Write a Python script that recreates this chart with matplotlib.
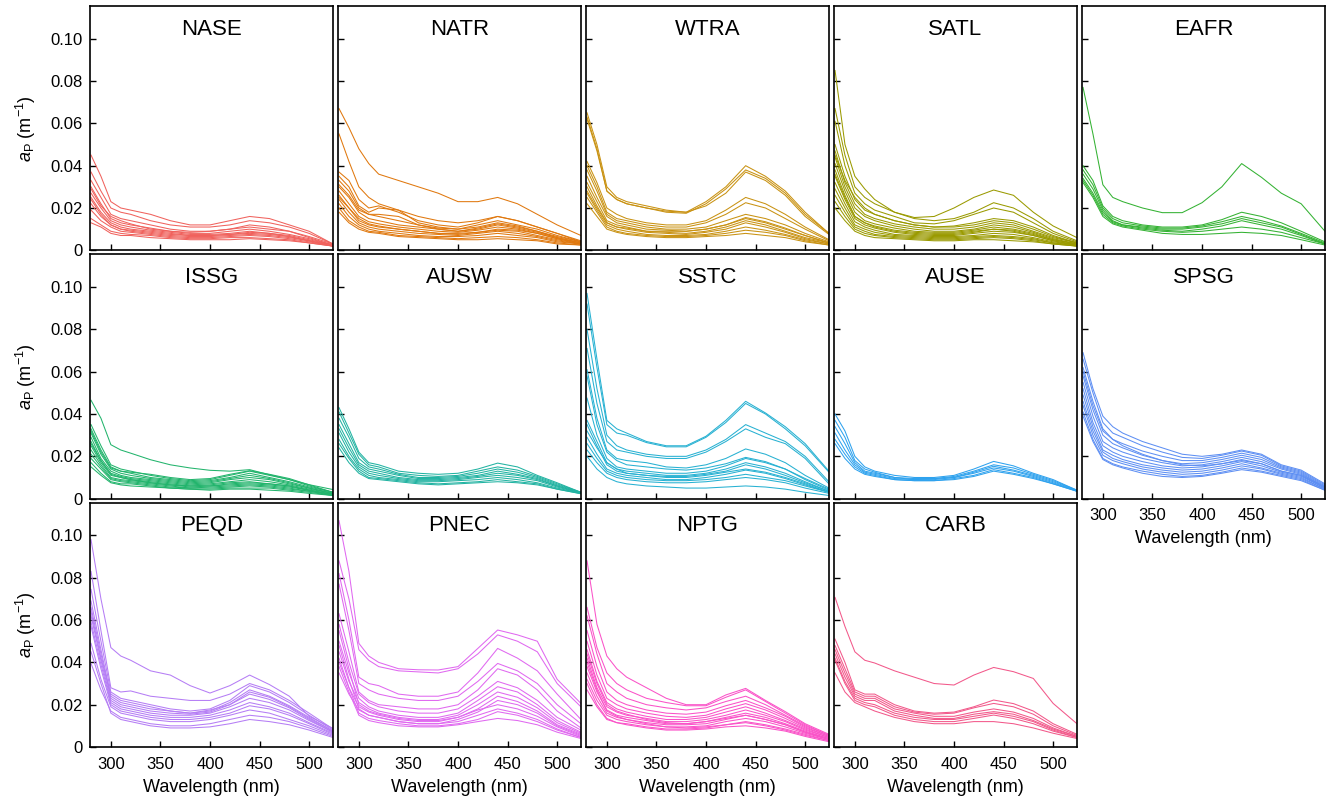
import matplotlib
matplotlib.use("Agg")
import matplotlib.pyplot as plt
from matplotlib.ticker import FuncFormatter

plt.rcParams["font.family"] = "Liberation Sans"
plt.rcParams["mathtext.fontset"] = "custom"
plt.rcParams["mathtext.rm"] = "Liberation Sans"
plt.rcParams["mathtext.it"] = "Liberation Sans:italic"

# wavelength grid (nm) the spectra were read at
wl = [280, 290, 300, 310, 320, 340, 360, 380, 400, 420, 440, 460, 480, 500, 524]

# particle absorption, in units of 0.001 m^-1
nase = [
    [45, 35, 23, 20, 19, 17, 14, 12, 12, 14, 16, 15, 12, 9, 3],
    [37, 28, 20, 18, 17, 14, 12, 11, 11, 12, 14, 13, 11, 8, 3],
    [33, 25, 17, 15, 14, 12, 10, 9, 9, 10, 11, 10, 9, 6, 2.5],
    [30, 22, 15, 13, 12, 10.5, 9, 8, 8, 9, 10, 9, 7.5, 5.5, 2.5],
    [27, 20, 14, 12, 11, 9.5, 8.5, 7.5, 7.5, 8, 9, 8, 7, 5, 2.5],
    [25, 18, 13, 11, 10, 9, 8, 7, 7, 7.5, 8, 7.5, 6.5, 4.5, 2],
    [22, 16, 12, 10, 9, 8, 7, 6.5, 6.5, 7, 7.5, 7, 6, 4.5, 2],
    [19, 14, 11, 9, 8.5, 7.5, 6.5, 6, 6, 6.5, 7, 6.5, 5.5, 4, 2],
    [15, 12, 9, 8, 7.5, 7, 6, 5.5, 5.5, 6, 6, 5.5, 5, 3.5, 2],
    [13, 11, 8, 7, 7, 6, 5.5, 5, 5, 5, 5.5, 5, 4.5, 3.5, 2],
    [29, 21, 16, 14, 12.5, 10, 9, 8.5, 9, 10, 12, 11, 9, 6.5, 3],
    [24, 17, 12, 10, 9.5, 8.5, 7.5, 7, 7, 7.5, 8.5, 8, 6.5, 4.5, 2.5],
]
natr = [
    [67, 58, 48, 41, 36, 33, 30, 27, 23, 23, 25, 22, 17, 12, 7],
    [55, 42, 30, 25, 22, 19, 16, 14, 13, 14, 16, 14, 11, 8, 4.5],
    [37, 33, 24, 20, 21, 18, 14, 12, 11, 13, 16, 14, 11, 8, 4],
    [35, 30, 21, 18, 20, 19, 13, 11, 10, 12, 14, 12, 10, 7, 4],
    [33, 28, 20, 17, 16, 14, 12, 10.5, 10, 11, 13, 11.5, 9, 6.5, 4],
    [30, 25, 18, 15, 14, 12, 11, 10, 9, 10, 12, 10.5, 8.5, 6, 3.5],
    [28, 22, 16, 13.5, 12.5, 11, 10, 9, 8.5, 9.5, 11, 10, 8, 5.5, 3.5],
    [26, 20, 15, 12.5, 11.5, 10, 9, 8, 8, 8.5, 9.5, 9, 7, 5, 3],
    [24, 18, 13, 11, 10, 9, 8, 7.5, 7, 8, 9, 8, 6.5, 4.5, 3],
    [22, 16, 12, 10, 9, 8, 7, 6.5, 6.5, 7, 8, 7, 6, 4, 3],
    [20, 14, 11, 9, 8.5, 7, 6.5, 6, 5.5, 6, 6.5, 6, 5, 3.5, 2.5],
    [18, 13, 10, 8.5, 8, 6.5, 6, 5.5, 5, 5, 5.5, 5, 4.5, 3, 2.5],
    [31, 26, 19, 17, 17, 16, 12, 10, 9, 10.5, 12.5, 11, 9, 6, 3.5],
    [25, 20, 14, 12, 11, 10, 9, 8, 7.5, 8.5, 10, 9.5, 8, 5.5, 3],
]
wtra = [
    [65, 50, 30, 25, 23, 21, 19, 18, 23, 30, 40, 35, 28, 18, 8],
    [63, 48, 28, 24, 22, 20, 18, 17.5, 22, 29, 38, 34, 27, 17, 8],
    [62, 47, 28, 24, 22, 20, 18.5, 18, 21, 27, 37, 33, 26, 16, 7.5],
    [42, 32, 20, 17, 15, 13, 12, 12, 14, 19, 25, 22, 17, 11, 5],
    [40, 30, 18, 15, 14, 12, 11, 11, 13, 17, 22.5, 20, 15, 10, 4.5],
    [38, 28, 17, 14, 13, 11, 10, 10, 11, 14, 17, 15, 12, 8, 4],
    [35, 25, 16, 13, 12, 10, 9.5, 9, 10, 12, 15, 13, 10, 7, 3.5],
    [32, 23, 14, 12, 11, 9, 8.5, 8, 9, 11, 14, 12, 9, 6, 3.5],
    [30, 21, 13, 11, 10, 8.5, 8, 7.5, 8.5, 10, 13, 11, 8.5, 5.5, 3],
    [27, 19, 12, 10, 9, 7.5, 7, 7, 7.5, 9, 11, 9.5, 7.5, 5, 3],
    [25, 18, 11, 9, 8, 7, 6.5, 6.5, 7, 8, 9.5, 8.5, 7, 4.5, 2.5],
    [22, 16, 10, 8.5, 7.5, 6.5, 6, 6, 6.5, 7, 8, 7, 6, 4, 2.5],
    [28, 20, 13, 11, 10.5, 9, 9, 9, 10, 12, 15.5, 13.5, 10.5, 7, 3.5],
]
satl = [
    [85, 50, 35, 29, 24, 18, 15.5, 16, 20, 25, 28.5, 26, 18, 11.5, 6],
    [67, 45, 30, 25, 22, 18, 15, 14, 15, 18, 22.5, 20, 15, 9, 4.5],
    [61, 40, 27, 22, 19, 16, 13, 12.5, 14, 17, 20, 18, 13, 8, 4],
    [50, 35, 24, 19, 17, 14, 12, 11, 11, 12, 14, 13, 10, 6.5, 3.5],
    [47, 32, 22, 17, 15, 12.5, 11, 10, 10, 11, 13, 12, 9, 6, 3.5],
    [44, 30, 20, 16, 14, 11.5, 10, 9, 9, 10, 12, 11, 8.5, 5.5, 3],
    [41, 28, 18, 14, 12.5, 10.5, 9, 8.5, 8.5, 9.5, 11, 10, 8, 5, 3],
    [38, 26, 16, 13, 11.5, 9.5, 8.5, 8, 8, 9, 10, 9.5, 7.5, 5, 3],
    [35, 24, 15, 12, 10.5, 8.5, 7.5, 7, 7, 8, 9, 8.5, 7, 4.5, 2.5],
    [32, 22, 13.5, 11, 9.5, 7.5, 7, 6.5, 6.5, 7, 8, 7.5, 6, 4, 2.5],
    [29, 20, 12, 10, 8.5, 7, 6.5, 6, 6, 6.5, 7, 6.5, 5.5, 3.5, 2.5],
    [26, 18, 11, 9, 7.5, 6.5, 6, 5.5, 5.5, 6, 6.5, 6, 5, 3.5, 2],
    [23, 16, 10, 8, 7, 6, 5.5, 5, 5, 5.5, 6, 5.5, 4.5, 3, 2],
    [20, 14, 9, 7, 6, 5.5, 5, 4.5, 4.5, 5, 5, 4.5, 4, 3, 2],
    [45, 33, 25, 20, 17, 14, 12, 11, 11.5, 13, 15, 14, 11, 7, 3.5],
    [36, 25, 16, 13, 11, 9, 8, 7.5, 7.5, 8.5, 10, 9, 7, 4.5, 2.5],
]
eafr = [
    [77, 55, 31, 25, 23, 20, 17.8, 17.8, 22.5, 30, 41, 34.5, 27, 22, 9],
    [40, 33, 21, 16, 14, 12, 11, 11, 12, 14.5, 18, 16, 13, 9, 4],
    [38, 31, 20, 15, 13, 11.5, 10.5, 10.5, 11.5, 13.5, 16, 14, 11.5, 8, 3.5],
    [36, 29, 19, 14, 12, 11, 10, 10, 11, 12.5, 15, 13, 11, 7.5, 3],
    [34, 27, 18, 13.5, 12, 10.5, 9.5, 9, 10, 11.5, 14, 12, 10, 7, 3],
    [33, 26, 17, 13, 11.5, 10, 9, 8.5, 9, 10, 11, 10, 8.5, 6, 3],
    [32, 25, 16, 12.5, 11, 9.5, 8, 7.5, 7.5, 8, 8.5, 8, 7, 5, 2.5],
]
issg = [
    [46.5, 38, 25.5, 23, 21.5, 18.4, 16, 14.5, 13.4, 13, 13.7, 11.3, 9, 6.6, 4.3],
    [35, 25, 16, 14, 13, 11, 9.5, 8.5, 9, 11, 13, 11, 9, 6, 3],
    [33, 23, 15, 13, 12, 10, 9, 8, 8.5, 10, 12, 10, 8, 5.5, 3],
    [31, 21, 14, 12, 11, 9.5, 8.5, 7.5, 8, 9.5, 11, 9.5, 7.5, 5, 2.5],
    [29, 19, 13, 11, 10, 9, 8, 7, 7.5, 9, 10, 9, 7, 5, 2.5],
    [27, 18, 12, 10.5, 9.5, 8.5, 7.5, 6.5, 7, 8, 9, 8, 6.5, 4.5, 2.5],
    [25, 17, 11, 10, 9, 8, 7, 6, 6.5, 7.5, 8, 7, 6, 4, 2],
    [23, 16, 10, 9, 8.5, 7.5, 6.5, 5.5, 6, 6.5, 7, 6.5, 5.5, 4, 2],
    [21, 15, 9.5, 8.5, 8, 7, 6, 5, 5.5, 6, 6.5, 6, 5, 3.5, 2],
    [19, 14, 9, 8, 7.5, 6.5, 5.5, 5, 5, 5.5, 6, 5.5, 4.5, 3.5, 1.5],
    [17, 12, 8, 7, 7, 6, 5, 4.5, 4.5, 5, 5, 5, 4, 3, 1.5],
    [15, 11, 7.5, 6.5, 6, 5.5, 5, 4.5, 4, 4.5, 4.5, 4, 3.5, 2.5, 1.5],
    [32, 22, 14.5, 13, 12.5, 11.5, 10, 9, 9.5, 11.5, 13.2, 11.5, 9.5, 6.5, 3],
    [26, 18, 11.5, 10, 9, 7.5, 6.5, 6, 6, 7, 7.5, 7, 6, 4, 2],
]
ausw = [
    [43, 33, 22, 17, 16, 13, 12, 11.5, 12, 14, 16.8, 15, 11, 7.5, 3],
    [41, 31, 21, 16, 15, 12, 11, 10.5, 11, 13, 15, 13.5, 10.5, 7, 3],
    [38, 29, 19, 15, 14, 11.5, 10, 10, 10.5, 12, 14, 12.5, 10, 6.5, 3],
    [35, 26, 17, 14, 13, 11, 9.5, 9.5, 10, 11, 13, 11.5, 9.5, 6, 2.8],
    [33, 24, 16, 13, 12, 10, 9, 9, 9.5, 10.5, 12, 11, 9, 6, 2.7],
    [31, 22, 15, 12, 11, 9.5, 8.5, 8.5, 9, 10, 11, 10, 8.5, 5.5, 2.6],
    [28, 20, 14, 11, 10, 9, 8, 8, 8.5, 9, 10, 9, 7.5, 5, 2.5],
    [26, 19, 13, 10, 9.5, 8.5, 7.5, 7, 7.5, 8, 9, 8, 7, 4.5, 2.4],
    [24, 17, 12, 9.5, 9, 8, 7, 6.5, 7, 7.5, 8, 7.5, 6.5, 4.5, 2.3],
]
sstc = [
    [97, 66, 37, 33, 31, 27, 25, 25, 29.5, 37, 46, 40.5, 34, 26, 13],
    [92, 62, 35, 31, 30, 26.5, 24.5, 24.5, 29, 36, 45, 40, 33, 25, 12.5],
    [80, 52, 30, 25, 23, 21, 20, 20, 23, 28, 35, 31, 27, 20, 8],
    [71, 45, 27, 23, 22, 20, 19, 19, 22, 27, 33, 29, 26, 19, 7],
    [61, 38, 23, 19, 18, 17, 15, 14.5, 16, 19, 23.5, 21, 17, 11, 5],
    [58, 35, 22, 18, 16, 15, 14, 13.5, 14.5, 16.5, 19.5, 17.5, 14, 9.5, 4.5],
    [47.5, 30, 19, 15, 14, 13, 12, 12, 13, 15.5, 19, 17, 14, 9, 4],
    [37, 27, 17, 14, 13, 12, 11, 11, 12, 14, 17, 15, 12, 8, 3.5],
    [35, 25, 16, 13, 12, 11, 10, 10, 11, 12.5, 14, 12.5, 10, 7, 3],
    [29, 21, 14, 12, 11, 10, 9, 9, 10, 11.5, 13.5, 12, 9.5, 6.5, 3],
    [26, 19, 13, 11, 10, 9, 8.5, 8.5, 9, 10, 11.5, 10, 8.5, 6, 3],
    [23, 17, 12, 10, 9, 8, 7.5, 7.5, 8, 9, 10, 9, 7.5, 5, 2.5],
    [20, 14, 10, 8, 7, 6, 5.5, 5, 5, 5.5, 6, 5.5, 4.5, 3, 1.5],
    [32, 24, 17, 14, 12, 11, 10.5, 10.5, 11.5, 13, 16, 14, 11, 7.5, 3.5],
]
ause = [
    [40, 32, 20, 15, 13, 11, 10, 10, 11, 14, 17.6, 15.5, 12, 9, 4],
    [37, 29, 18, 14, 12.5, 10, 9.5, 9.5, 10.5, 13, 16, 14.5, 11.5, 8.5, 4],
    [34, 26, 17, 13, 12, 10, 9, 9.5, 10, 12.5, 15.3, 13.5, 11, 8, 3.8],
    [31, 23, 16, 12.5, 11.5, 9.5, 9, 9, 10, 12, 14.5, 13, 10.5, 7.5, 3.6],
    [28, 21, 15, 12, 11, 9, 8.5, 8.5, 9.5, 11, 13.7, 12, 10, 7, 3.5],
    [26, 19, 14, 11.5, 10.5, 9, 8.5, 8.5, 9, 10.5, 13, 11.5, 9.5, 7, 3.5],
]
spsg = [
    [69, 52, 39, 34, 31, 27, 24, 21, 20, 21, 23, 21, 16, 13.5, 7],
    [66, 50, 36, 31, 29, 25, 22, 19.5, 19, 20.5, 22.5, 20.5, 15.5, 13, 6.5],
    [62, 46, 33, 28, 26, 22.5, 20, 18, 18, 19.5, 21.5, 19.5, 15, 12.5, 6],
    [58, 42, 30, 26, 24, 20.5, 18, 16.5, 17, 18.5, 20.5, 18.5, 14.5, 12, 5.5],
    [55, 39, 27, 24, 22, 19, 17, 15.5, 16, 17.5, 19.5, 17.5, 14, 11.5, 5.5],
    [52, 36, 25, 22, 20, 17.5, 15.5, 14.5, 15, 16.5, 18.5, 16.5, 13, 11, 5],
    [49, 34, 23, 20.5, 18.5, 16, 14.5, 13.5, 14, 15.5, 17.5, 15.5, 12.5, 10.5, 5],
    [46, 32, 22, 19, 17.5, 15, 13.5, 12.5, 13, 14.5, 16.5, 14.5, 12, 10, 4.5],
    [44, 30, 20.5, 18, 16.5, 14, 12.5, 11.5, 12, 13.5, 15.5, 14, 11.5, 9.5, 4.5],
    [41, 28, 19, 16.5, 15, 13, 11.5, 10.5, 11, 12.5, 14.5, 13, 11, 9, 4],
    [39, 27, 18.5, 16, 14.5, 12, 10.5, 10, 10.5, 12, 13.7, 12.5, 10.5, 8.5, 4],
    [60, 44, 32, 28, 25, 21, 18, 16, 15.5, 16.5, 18, 16.5, 13, 11, 5.5],
]
peqd = [
    [98, 70, 47, 43, 41, 36, 34, 29, 25.5, 29, 34, 29.5, 24, 14.5, 8.8],
    [83, 55, 28, 26, 26.5, 24, 23, 22, 22, 25, 30, 27, 22, 16, 8.5],
    [74.5, 50, 26, 23, 22, 20, 18, 17, 18, 22, 29, 26, 21, 15, 8],
    [69, 46, 24, 21, 20, 18, 17, 16, 17, 21, 27, 24, 19.5, 14, 7.5],
    [66, 44, 23, 20, 19, 17, 16, 15.5, 16.5, 20, 25, 22.5, 18.5, 13, 7],
    [62, 41, 22, 19, 18, 16, 15, 15, 16, 19, 23, 21, 17.5, 12.5, 7],
    [59, 39, 21, 18, 17, 15, 14, 14, 15, 17.5, 21, 19, 16, 11.5, 6.5],
    [57, 37, 20, 17, 16, 14, 13, 13, 14, 16, 19.5, 18, 15, 11, 6],
    [49, 32, 19, 16, 15, 13, 12, 12, 13, 15, 17.5, 16, 13, 10, 5.5],
    [39.5, 27, 17, 14, 13, 11, 10, 10, 11, 13, 15, 14, 12, 9, 5],
    [45, 30, 16, 13, 12, 10, 9, 9, 9.5, 11, 13, 12, 10.5, 8, 4.5],
    [64, 42, 25, 22, 21, 19, 17, 16, 17.5, 20, 26, 23.5, 19, 13.5, 7.5],
]
pnec = [
    [107, 83, 49, 43, 40, 37, 36.5, 36.4, 38, 46.6, 55.3, 53, 50, 32, 20.6],
    [88, 70, 46, 41, 38, 36, 35.5, 35, 37, 44, 53, 50, 45, 30, 19],
    [82, 60, 33, 30, 29, 25, 24, 24, 26, 35, 46.6, 42, 36, 25, 13],
    [77, 55, 30, 27, 25, 23, 22, 22, 24, 31, 39.5, 36, 30, 20, 11],
    [63, 45, 26, 22, 20, 19, 18, 18, 20, 27, 37, 34, 27, 17, 9],
    [58, 40, 25, 21, 19, 17, 16, 16, 18, 24, 31, 28, 22, 14, 8],
    [50, 35, 23, 19, 17, 15, 14, 14, 16, 22, 28.5, 26, 20, 12.5, 7],
    [45, 31, 21, 18, 16, 14, 13, 13, 15, 20, 26, 23.5, 18.5, 11.5, 6.5],
    [40, 28, 19, 16.5, 15, 13, 12, 12, 14, 18, 24, 21.5, 17, 10.5, 6],
    [35, 25, 17.5, 15, 14, 12, 11, 11, 13, 16.5, 22, 20, 16, 10, 5.5],
    [55, 37, 20, 17, 15.5, 13.5, 12.5, 12.5, 14, 17.5, 20, 18, 14.5, 9.5, 5],
    [48, 32, 18, 15, 14, 12, 11, 11, 12, 15, 18, 16, 13, 8.5, 4.5],
    [42, 28, 16, 13.5, 12.5, 11, 10, 10, 11, 13, 16.7, 15, 12, 8, 4.5],
    [38, 26, 15, 12.5, 11.5, 10, 9.5, 9.5, 10.5, 12, 13.5, 12.5, 10.5, 7, 4],
]
nptg = [
    [88, 58, 43, 37, 33, 28, 23, 20, 20, 24.6, 27.7, 22, 16.7, 11, 6],
    [66, 47, 35, 30, 27, 23, 21, 19.5, 19.5, 23.5, 27, 21.5, 16, 10.5, 5.5],
    [62, 44, 30, 26, 23, 20, 18.5, 17.5, 18.5, 21.5, 24, 20, 15, 10, 5.5],
    [55, 38, 26, 22, 20, 17.5, 16, 15.5, 16.5, 19.5, 22, 18.5, 14.5, 9.5, 5],
    [50, 34, 23, 20, 18, 16, 14.5, 14, 15, 18, 20.5, 17.5, 13.5, 9, 5],
    [46, 31, 21, 18, 16.5, 14.5, 13, 13, 14, 16.5, 19, 16, 12.5, 8.5, 4.5],
    [42, 28, 19, 16.5, 15, 13.5, 12, 12, 13, 15, 17.5, 15, 12, 8, 4.5],
    [38, 26, 17.5, 15, 14, 12.5, 11, 11, 12, 14, 16, 14, 11, 7.5, 4],
    [35, 24, 16, 14, 13, 11.5, 10.5, 10.5, 11, 13, 15, 13, 10.5, 7, 4],
    [32, 22, 15, 13, 12, 10.5, 9.5, 9.5, 10, 12, 13.5, 12, 9.5, 6.5, 3.5],
    [27, 19, 13, 11.5, 11, 9.5, 8.5, 8.5, 9, 10.5, 12, 10.5, 8.5, 6, 3],
    [44, 30, 20, 17, 15.5, 13, 11.5, 11, 12, 13.5, 15, 13, 10.5, 7, 3.5],
    [40, 27, 17, 14.5, 13, 11, 9.5, 9, 9.5, 10.5, 11.5, 10, 8, 5.5, 3],
    [30, 20, 13.5, 11.5, 10.5, 9, 8, 8, 8.5, 9.5, 10, 9, 7.5, 5, 2.5],
]
carb = [
    [70.7, 57, 45, 41, 39.7, 36, 33, 30, 29.3, 34, 37.6, 35.6, 32.4, 20.6, 11],
    [51, 40, 27, 25, 25, 20, 17, 16, 16.5, 19, 22.2, 20.5, 17, 11, 6],
    [48, 37, 26, 24, 24, 19, 16.5, 15.5, 16, 18.5, 20.6, 19, 15.5, 10, 5.5],
    [46, 35, 25, 23, 23, 18, 16, 14.5, 14.5, 16.5, 18, 16.5, 13.5, 9, 5],
    [44, 33, 24, 22, 22, 17, 15, 13.5, 13.5, 15.5, 16.7, 15.5, 12.5, 8.5, 5],
    [42, 31, 23, 21, 20, 16, 14, 13, 13, 14.5, 16, 14.5, 12, 8, 4.5],
    [41, 30, 22, 20, 19, 15, 13, 12, 12, 13.5, 15.1, 13.5, 11, 7.5, 4.5],
    [35, 26, 21, 19, 17, 14, 12, 11, 11, 12, 12, 11, 9, 6.5, 4],
]

provinces = ["NASE", "NATR", "WTRA", "SATL", "EAFR",
             "ISSG", "AUSW", "SSTC", "AUSE", "SPSG",
             "PEQD", "PNEC", "NPTG", "CARB"]
spectra = [nase, natr, wtra, satl, eafr, issg, ausw, sstc, ause, spsg,
           peqd, pnec, nptg, carb]
colors = ["#F0625D", "#E0780E", "#C99212", "#9A9A00", "#34B233",
          "#22B46C", "#22B3A2", "#27B1D2", "#2EA2EE", "#5E8FF3",
          "#B57DF5", "#E068F0", "#FA52C8", "#F2588A"]

fig, axes = plt.subplots(3, 5, figsize=(13.28, 7.99), dpi=100,
                         sharex=True, sharey=True)
fig.subplots_adjust(left=0.0678, right=0.9977, top=0.9925, bottom=0.0651,
                    wspace=0.021, hspace=0.0165)

flat = axes.flatten()
for i, ax in enumerate(flat):
    if i >= len(provinces):
        ax.set_visible(False)
        continue
    for curve in spectra[i]:
        ax.plot(wl, [v / 1000 for v in curve], color=colors[i], lw=0.75)
    ax.text(0.5, 0.905, provinces[i], transform=ax.transAxes,
            ha="center", va="center", fontsize=16)
    ax.tick_params(direction="in", length=4, width=1, labelsize=12, pad=7)
    for sp in ax.spines.values():
        sp.set_linewidth(1.2)

ax0 = flat[0]
ax0.set_xlim(279, 524)
ax0.set_ylim(0, 0.1155)
ax0.set_xticks([300, 350, 400, 450, 500])
ax0.set_yticks([0, 0.02, 0.04, 0.06, 0.08, 0.10])
ax0.yaxis.set_major_formatter(FuncFormatter(lambda v, p: "0" if v == 0 else f"{v:.2f}"))

for r in range(3):
    axes[r, 0].tick_params(axis="y", pad=5)
    axes[r, 0].set_ylabel(r"$a_\mathrm{P}$ (m$^{-1}$)", fontsize=13, labelpad=9)

for ax in [axes[2, 0], axes[2, 1], axes[2, 2], axes[2, 3], axes[1, 4]]:
    ax.tick_params(labelbottom=True)
    ax.set_xlabel("Wavelength (nm)", fontsize=13, labelpad=5)

fig.savefig("out.png", dpi=100)
